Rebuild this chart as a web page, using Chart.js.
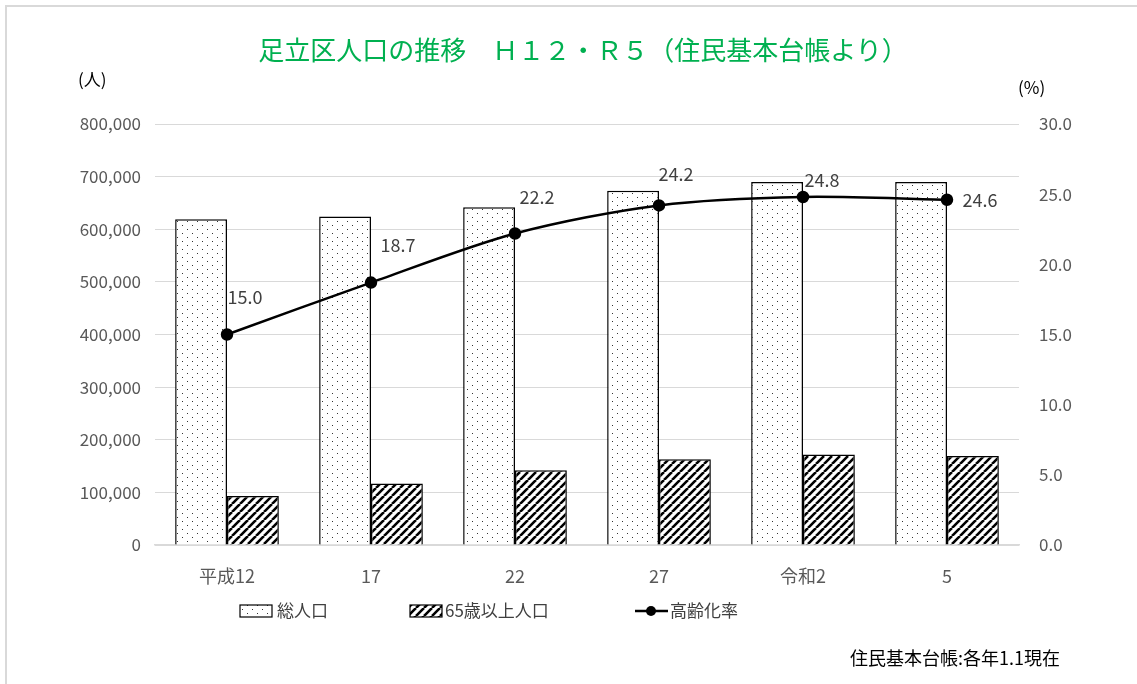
<!DOCTYPE html>
<html>
<head>
<meta charset="utf-8">
<script src="https://cdn.jsdelivr.net/npm/chart.js@4"></script>
<style>
    html, body { margin: 0; padding: 0; background: #fff; }
    #wrap { position: relative; width: 1137px; height: 684px; overflow: hidden; font-family: "Noto Sans CJK JP", sans-serif; }
    #frame { position: absolute; left: 5px; top: 5px; width: 1200px; height: 800px; border-left: 2px solid #d9d9d9; border-top: 2px solid #d9d9d9; }
    #title { position: absolute; left: 0; width: 1166px; top: 30px; text-align: center; font-size: 26px; color: #00b050; }
    .unit { position: absolute; font-size: 17px; color: #000; }
    #note { position: absolute; right: 77px; top: 644px; font-size: 18px; color: #000; }
    canvas { position: absolute; left: 0; top: 0; }
</style>
</head>
<body>
<div id="wrap">
    <div id="frame"></div>
    <canvas id="canvas" width="1137" height="684"></canvas>
    <div id="title">足立区人口の推移　Ｈ１２・Ｒ５（住民基本台帳より）</div>
    <div class="unit" style="left:78px; top:66px;">(人)</div>
    <div class="unit" style="left:1018px; top:74px;">(%)</div>
    <div id="note">住民基本台帳:各年1.1現在</div>
</div>
<script>
const categories = ['平成12', '17', '22', '27', '令和2', '5'];
const totalPopulation = [619000, 624000, 642000, 673000, 690000, 690000];
const elderlyPopulation = [93000, 117000, 142000, 163000, 172000, 169000];
const agingRate = [15.0, 18.7, 22.2, 24.2, 24.8, 24.6];
const seriesNames = ['総人口', '65歳以上人口', '高齢化率'];

// label offsets from each point, like the Excel placement
const labelOffsets = [[18, -37], [27, -37], [22, -36], [17, -31], [19, -17], [33, 0]];

function dotPattern() {
    const c = document.createElement('canvas');
    c.width = 10; c.height = 8;
    const g = c.getContext('2d');
    g.fillStyle = '#fff';
    g.fillRect(0, 0, 10, 8);
    g.fillStyle = '#333';
    g.fillRect(2, 1, 1, 1);
    g.fillRect(7, 5, 1, 1);
    return g.createPattern(c, 'repeat');
}

function hatchPattern() {
    const s = 8;
    const c = document.createElement('canvas');
    c.width = s; c.height = s;
    const g = c.getContext('2d');
    g.fillStyle = '#fff';
    g.fillRect(0, 0, s, s);
    g.strokeStyle = '#000';
    g.lineWidth = 2.6;
    g.beginPath();
    for (let k = -1; k <= 1; k++) {
        g.moveTo(k * s, s);
        g.lineTo(k * s + s, 0);
    }
    g.stroke();
    return g.createPattern(c, 'repeat');
}

const dots = dotPattern();
const hatch = hatchPattern();

const extras = {
    id: 'extras',
    afterDatasetsDraw(chart) {
        const ctx = chart.ctx;
        const meta = chart.getDatasetMeta(0);
        ctx.save();
        ctx.font = '18px "Noto Sans CJK JP"';
        ctx.fillStyle = '#404040';
        ctx.textAlign = 'center';
        ctx.textBaseline = 'middle';
        meta.data.forEach((pt, i) => {
            const off = labelOffsets[i];
            ctx.fillText(agingRate[i].toFixed(1), pt.x + off[0], pt.y + off[1]);
        });

        // legend
        const ly = 611;
        ctx.font = '17px "Noto Sans CJK JP"';
        ctx.textAlign = 'left';
        ctx.lineWidth = 1.2;
        ctx.strokeStyle = '#000';
        ctx.fillStyle = dots;
        ctx.fillRect(240, ly - 6, 32, 12);
        ctx.strokeRect(240, ly - 6, 32, 12);
        ctx.fillStyle = hatch;
        ctx.fillRect(410, ly - 6, 32, 12);
        ctx.strokeRect(410, ly - 6, 32, 12);
        ctx.lineWidth = 2.5;
        ctx.beginPath();
        ctx.moveTo(635, ly);
        ctx.lineTo(668, ly);
        ctx.stroke();
        ctx.fillStyle = '#000';
        ctx.beginPath();
        ctx.arc(651, ly, 5, 0, Math.PI * 2);
        ctx.fill();
        ctx.fillStyle = '#404040';
        ctx.fillText(seriesNames[0], 277, ly);
        ctx.fillText(seriesNames[1], 445, ly);
        ctx.fillText(seriesNames[2], 670, ly);
        ctx.restore();
    }
};

new Chart(document.getElementById('canvas').getContext('2d'), {
    data: {
        labels: categories,
        datasets: [
            {
                type: 'line',
                label: seriesNames[2],
                data: agingRate,
                yAxisID: 'y1',
                borderColor: '#000',
                borderWidth: 2.5,
                pointRadius: 5,
                pointBackgroundColor: '#000',
                pointBorderColor: '#000',
                tension: 0.3,
                order: 0
            },
            {
                type: 'bar',
                label: seriesNames[0],
                data: totalPopulation,
                backgroundColor: dots,
                borderColor: '#000',
                borderWidth: 1.5,
                categoryPercentage: 0.72,
                barPercentage: 1.0,
                order: 1
            },
            {
                type: 'bar',
                label: seriesNames[1],
                data: elderlyPopulation,
                backgroundColor: hatch,
                borderColor: '#000',
                borderWidth: 1.5,
                categoryPercentage: 0.72,
                barPercentage: 1.0,
                order: 1
            }
        ]
    },
    options: {
        responsive: false,
        animation: false,
        layout: { padding: { top: 124, left: 0, right: 0, bottom: 0 } },
        plugins: {
            legend: { display: false },
            tooltip: { enabled: false }
        },
        scales: {
            x: {
                grid: { display: false },
                border: { color: '#d9d9d9', width: 1.5 },
                ticks: { color: '#595959', font: { family: 'Noto Sans CJK JP', size: 18 }, padding: 12 },
                afterFit(scale) { scale.height = 139; }
            },
            y: {
                position: 'left',
                min: 0,
                max: 800000,
                ticks: {
                    stepSize: 100000,
                    color: '#595959',
                    font: { family: 'Noto Sans CJK JP', size: 17 },
                    padding: 14,
                    callback: v => v.toLocaleString('en-US')
                },
                grid: { color: '#d9d9d9', lineWidth: 1, drawTicks: false },
                border: { display: false },
                afterFit(scale) { scale.width = 155; }
            },
            y1: {
                position: 'right',
                min: 0,
                max: 30,
                ticks: {
                    stepSize: 5,
                    color: '#595959',
                    font: { family: 'Noto Sans CJK JP', size: 17 },
                    padding: 12,
                    callback: v => v.toFixed(1)
                },
                grid: { display: false },
                border: { display: false },
                afterFit(scale) { scale.width = 118; }
            }
        }
    },
    plugins: [extras]
});
</script>
</body>
</html>
